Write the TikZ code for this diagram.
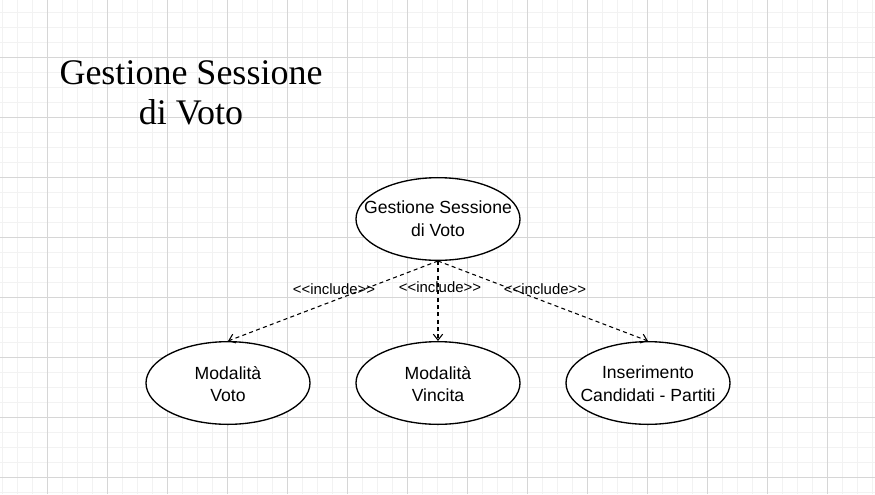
\documentclass[tikz,border=0pt]{standalone}
\usepackage{fontspec}
\setmainfont{Liberation Serif}
\newfontfamily\arialfont{Liberation Sans}
\usetikzlibrary{shapes.geometric,arrows.meta}
\definecolor{gridminor}{HTML}{F2F2F2}
\definecolor{gridmajor}{HTML}{D6D6D6}
\tikzset{
  usecase/.style={ellipse, draw=black, line width=1pt, fill=white, minimum width=123pt, minimum height=62pt, inner sep=0pt},
  uctext/.style={align=center, inner sep=0pt, font=\arialfont\fontsize{13.2}{17}\selectfont},
  inclink/.style={draw=black, line width=0.8pt, dash pattern=on 3pt off 2.5pt, -{Straight Barb[length=4.5pt,width=7pt]}},
  inclabel/.style={font=\arialfont\fontsize{11.2}{13}\selectfont, inner sep=1pt}
}
\begin{document}
\begin{tikzpicture}[x=0.75pt,y=-0.75pt]
\useasboundingbox (0,0) rectangle (875,494);
\fill[white] (0,0) rectangle (875,494);
\foreach \x in {2,17,...,872} \draw[gridminor, line width=0.75pt] (\x,0) -- (\x,494);
\foreach \y in {12,27,...,492} \draw[gridminor, line width=0.75pt] (0,\y) -- (875,\y);
\foreach \x in {47,107,...,827} \draw[gridmajor, line width=0.75pt] (\x,0) -- (\x,494);
\foreach \y in {57,117,...,477} \draw[gridmajor, line width=0.75pt] (0,\y) -- (875,\y);

\node[font=\fontsize{27}{30}\selectfont, align=center] (title) at (191,93) {Gestione Sessione\\di Voto};

\node[usecase] (gs) at (438,219) {};
\node[usecase] (mv) at (228,383) {};
\node[usecase] (mvi) at (438,383) {};
\node[usecase] (ic) at (648,383) {};
\node[uctext] (gst) at (438,219) {Gestione Sessione\\di Voto};
\node[uctext] (mvt) at (228,384) {Modalità\\Voto};
\node[uctext] (mvit) at (438,384) {Modalità\\Vincita};
\node[uctext] (ict) at (648,384) {Inserimento\\Candidati - Partiti};

\draw[inclink] (gs.south) -- (mv.north);
\draw[inclink] (gs.south) -- (mvi.north);
\draw[inclink] (gs.south) -- (ic.north);

\node[inclabel] (l1) at (334,289) {<{}<include>{}>};
\node[inclabel] (l2) at (440,287) {<{}<include>{}>};
\node[inclabel] (l3) at (545,289) {<{}<include>{}>};
\end{tikzpicture}
\end{document}
